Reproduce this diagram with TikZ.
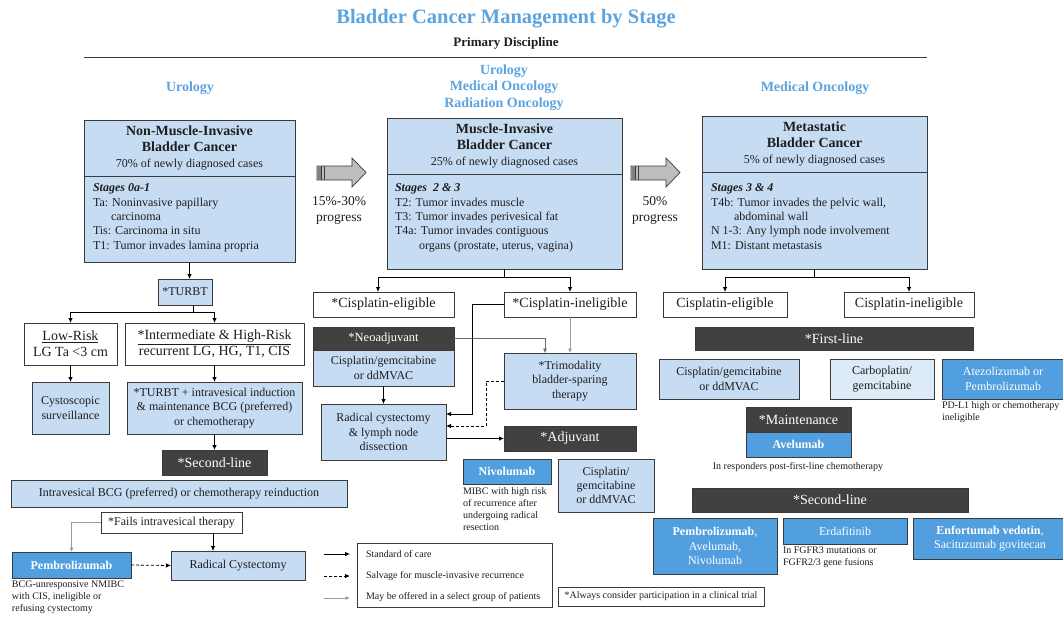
\documentclass[tikz,border=0pt]{standalone}
\usepackage{fontspec}
\setmainfont{Liberation Serif}
\usetikzlibrary{arrows.meta,calc}
\definecolor{tblue}{HTML}{5BA4E0}
\definecolor{lblue}{HTML}{C6DCF3}
\definecolor{llblue}{HTML}{DDEAF8}
\definecolor{mblue}{HTML}{529FE0}
\definecolor{dgray}{HTML}{414141}
\definecolor{edge}{HTML}{3A3A3A}
\definecolor{gline}{HTML}{9A9A9A}
\definecolor{g2line}{HTML}{6A6A6A}
\definecolor{agray}{HTML}{BDBDBD}
\definecolor{txt}{HTML}{1E1E1E}
\newcommand\fs[2]{\fontsize{#1}{#2}\selectfont}
\newcommand\hb[1]{{\fs{14}{16}\bfseries #1}}
\begin{document}
\begin{tikzpicture}[x=1pt,y=-1pt,
  every node/.style={inner sep=0pt, outer sep=0pt, text=txt},
  sz/.style 2 args={minimum width=#1pt, minimum height=#2pt},
  bx/.style={draw=edge, line width=0.9pt, fill=lblue, align=center, font=\fs{12}{14.3}},
  lbx/.style={bx, fill=llblue},
  wb/.style={draw=edge, line width=0.9pt, fill=white, align=center, font=\fs{14}{16}},
  dk/.style={draw=edge, line width=0.9pt, fill=dgray, text=white, align=center, font=\fs{14}{16}},
  bl/.style={draw=edge, line width=0.9pt, fill=mblue, text=white, align=center, font=\fs{12}{14.3}},
  hd/.style={text=tblue, font=\fs{14}{16.5}\bfseries, align=center},
  body/.style={align=left, font=\fs{12}{14.3}},
  small/.style={align=left, font=\fs{10}{12}},
  arr/.style={-{Latex[length=5pt,width=4.5pt]}, line width=0.8pt, draw=black},
  darr/.style={arr, dash pattern=on 3pt off 2pt},
  garr/.style={-{Latex[length=4.5pt,width=4pt]}, line width=0.8pt, draw=gline},
  g2arr/.style={-{Latex[length=4.5pt,width=4pt]}, line width=0.6pt, draw=g2line},
  plain/.style={line width=0.8pt, draw=black}
]
\clip (0,0) rectangle (1063,616);
\fill[white] (0,0) rectangle (1063,616);

% ---------- header ----------
\node[font=\fs{20.5}{24}\bfseries, text=tblue, anchor=base] (title) at (506,23.3) {Bladder Cancer Management by Stage};
\node[font=\fs{13}{15}\bfseries, anchor=base] (pd) at (506,46) {Primary Discipline};
\coordinate (hl) at (84,57); \coordinate (hr) at (927,57);
\draw[line width=1pt, draw=edge] (hl) -- (hr);
\node[hd, anchor=base] (d1) at (190,91) {Urology};
\node[hd, anchor=north] (d2) at (504,64.5) {Urology\\Medical Oncology\\Radiation Oncology};
\node[hd, anchor=base] (d3) at (815,91) {Medical Oncology};

% ---------- stage boxes ----------
\node[bx, sz={211}{56}, font=\fs{12}{15.6}] (nmibcH) at (189.5,148) {\hb{Non-Muscle-Invasive}\\\hb{Bladder Cancer}\\70\% of newly diagnosed cases};
\node[bx, sz={211}{86}] (nmibcB) at (189.5,219) {};
\node[body, anchor=north west] (nmibcT) at (93,184) {\textbf{\textit{Stages 0a-1}}\\Ta: Noninvasive papillary\\\hspace*{18pt}carcinoma\\Tis: Carcinoma in situ\\T1: Tumor invades lamina propria};

\node[bx, sz={235}{56}, font=\fs{12}{15.6}] (mibcH) at (504.5,146) {\hb{Muscle-Invasive}\\\hb{Bladder Cancer}\\25\% of newly diagnosed cases};
\node[bx, sz={235}{95}] (mibcB) at (504.5,221.5) {};
\node[body, anchor=north west] (mibcT) at (395,184) {\textbf{\textit{Stages\ \ 2 \& 3}}\\T2: Tumor invades muscle\\T3: Tumor invades perivesical fat\\T4a: Tumor invades contiguous\\\hspace*{24pt}organs (prostate, uterus, vagina)};

\node[bx, sz={225}{56}, font=\fs{12}{15.6}] (metH) at (814.5,144) {\hb{Metastatic}\\\hb{Bladder Cancer}\\5\% of newly diagnosed cases};
\node[bx, sz={225}{97}] (metB) at (814.5,220.5) {};
\node[body, anchor=north west] (metT) at (711,184) {\textbf{\textit{Stages 3 \& 4}}\\T4b: Tumor invades the pelvic wall,\\\hspace*{23pt}abdominal wall\\N 1-3: Any lymph node involvement\\M1: Distant metastasis};

% ---------- block arrows ----------
\foreach \ax in {317,631}{
  \begin{scope}[shift={(\ax,0)}]
    \draw[fill=agray, draw=edge, line width=0.7pt] (0,166) -- (35,166) -- (35,158) -- (49,172.5) -- (35,187) -- (35,180) -- (0,180) -- cycle;
    \fill[gray] (0.5,166.5) rectangle (3.5,179.5);
    \draw[edge, line width=0.6pt] (4,166) -- (4,180) (7,166) -- (7,180);
  \end{scope}
}
\node[align=center, font=\fs{13.5}{16}] (p1) at (339,210.5) {15\%-30\%\\progress};
\node[align=center, font=\fs{13.5}{16}] (p2) at (655,210.5) {50\%\\progress};

% ---------- NMIBC branch ----------
\node[bx, sz={54}{26}] (turbt) at (185,292) {*TURBT};
\node[wb, sz={93}{42}] (low) at (70.5,344) {\underline{Low-Risk}\\LG Ta <3 cm};
\node[wb, sz={179}{42}] (inter) at (214.5,344) {\underline{*Intermediate \& High-Risk}\\recurrent LG, HG, T1, CIS};
\node[bx, sz={77}{52}] (cysto) at (70.5,408) {Cystoscopic\\surveillance};
\node[bx, sz={175}{52}] (tplus) at (214.5,408) {*TURBT + intravesical induction\\\& maintenance BCG (preferred)\\or chemotherapy};
\node[dk, sz={105}{25}] (sl1) at (214.5,462.5) {*Second-line};
\node[bx, sz={336}{27}] (bcg) at (179,493.5) {Intravesical BCG (preferred) or chemotherapy reinduction};
\node[wb, sz={141}{21}, font=\fs{12}{14.3}] (fails) at (171.5,522.5) {*Fails intravesical therapy};
\node[bl, sz={119}{26}, font=\fs{12}{14.3}\bfseries] (pembro1) at (71.5,565) {Pembrolizumab};
\node[bx, sz={134}{29}] (rc1) at (238,565.5) {Radical Cystectomy};
\node[small, anchor=north west] (pembro1t) at (12,581) {BCG-unresponsive NMIBC\\with CIS, ineligible or\\refusing cystectomy};

\draw[arr] (nmibcB.south) -- (nmibcB.south |- turbt.north);
\coordinate (tdrop) at ($(turbt.south)+(8,0)$);
\draw[plain] (tdrop) -- ++(0,7) coordinate (tsplit);
\draw[arr] (tsplit) -| (low.north);
\draw[arr] (tsplit) -| (inter.north);
\draw[arr] (low.south) -- (cysto.north);
\draw[arr] (inter.south) -- (tplus.north);
\draw[arr] (tplus.south) -- (sl1.north);
\draw[garr] (fails.west) -| (pembro1.north);
\coordinate (fdrop) at ($(fails.south east)+(-29,0)$);
\draw[arr] (fdrop) -- (fdrop |- rc1.north);
\draw[darr] (pembro1.east) -- (rc1.west);

% ---------- MIBC branch ----------
\node[wb, sz={141}{25}] (ceM) at (383.5,304.5) {*Cisplatin-eligible};
\node[wb, sz={132}{25}] (ciM) at (570,304.5) {*Cisplatin-ineligible};
\node[dk, sz={141}{23}, font=\fs{12.5}{15}] (neoH) at (383.5,338.5) {*Neoadjuvant};
\node[bx, sz={141}{36}] (neoB) at (383.5,368) {Cisplatin/gemcitabine\\or ddMVAC};
\node[bx, sz={125}{56}] (rc2) at (383.5,432) {Radical cystectomy\\\& lymph node\\dissection};
\node[bx, sz={132}{56}] (tri) at (570,381) {*Trimodality\\bladder-sparing\\therapy};
\node[dk, sz={132}{25}] (adj) at (570,438.5) {*Adjuvant};
\node[bl, sz={88}{25}, font=\fs{12}{14.3}\bfseries] (nivo) at (507,471.5) {Nivolumab};
\node[small, anchor=north west] (nivot) at (463,487.5) {MIBC with high risk\\of recurrence after\\undergoing radical\\resection};
\node[bx, sz={96}{53}] (adjchemo) at (606,485.5) {Cisplatin/\\gemcitabine\\or ddMVAC};

\draw[plain] (mibcB.south) -- ++(0,8) coordinate (msplit);
\draw[arr] (msplit) -| ($(ceM.north)+(-5.5,0)$);
\draw[arr] (msplit) -| (ciM.north);
\draw[arr] (neoB.south) -- (rc2.north);
\draw[g2arr] (neoH.east) -| ($(tri.north)+(-25,0)$);
\draw[garr] (ciM.south) -- (tri.north);
\draw[arr] (ciM.west) -- ($(ciM.west)+(-32,0)$) |- ($(rc2.east)+(0,-18)$);
\draw[darr] (tri.west) -- ($(tri.west)+(-18,0)$) |- ($(rc2.east)+(0,-6)$);
\draw[arr] (rc2.east |- adj.west) -- (adj.west);

% ---------- Metastatic branch ----------
\node[wb, sz={124}{25}] (ceR) at (725,304.5) {Cisplatin-eligible};
\node[wb, sz={130}{25}] (ciR) at (909,304.5) {Cisplatin-ineligible};
\node[dk, sz={278}{23}] (fl) at (834,338.5) {*First-line};
\node[bx, sz={140}{40}] (cgR) at (729,379) {Cisplatin/gemcitabine\\or ddMVAC};
\node[lbx, sz={104}{40}] (carbo) at (882,379) {Carboplatin/\\gemcitabine};
\node[bl, sz={122}{40}] (atezo) at (1003,379) {Atezolizumab or\\Pembrolizumab};
\node[small, anchor=north west] (atezot) at (942,402) {PD-L1 high or chemotherapy\\ineligible};
\node[dk, sz={105}{25}] (maint) at (798.5,419.5) {*Maintenance};
\node[bl, sz={105}{25}, font=\fs{12}{14.3}\bfseries] (avel) at (798.5,444.5) {Avelumab};
\node[small, anchor=base] (avelt) at (798,469.5) {In responders post-first-line chemotherapy};
\node[dk, sz={276}{24}] (sl2) at (830,500) {*Second-line};
\node[bl, sz={124}{56}] (pembro2) at (715,546) {\textbf{Pembrolizumab},\\Avelumab,\\Nivolumab};
\node[bl, sz={124}{26}] (erda) at (845,531) {Erdafitinib};
\node[small, anchor=north west] (erdat) at (783,547) {In FGFR3 mutations or\\FGFR2/3 gene fusions};
\node[bl, sz={154}{41}] (enfo) at (990,538.5) {\textbf{Enfortumab vedotin},\\Sacituzumab govitecan};

\draw[plain] (metB.south) -- ++(0,8) coordinate (rsplit);
\draw[arr] (rsplit) -| (ceR.north);
\draw[arr] (rsplit) -| (ciR.north);

% ---------- legend ----------
\node[draw=edge, line width=0.9pt, fill=white, sz={195}{64}] (legend) at (454.5,575) {};
\node[small, anchor=west] (lt1) at (366,554) {Standard of care};
\node[small, anchor=west] (lt2) at (366,576) {Salvage for muscle-invasive recurrence};
\node[small, anchor=west] (lt3) at (366,597.5) {May be offered in a select group of patients};
\coordinate (l1s) at (324,554); \coordinate (l1e) at (350,554);
\coordinate (l2s) at (324,576); \coordinate (l2e) at (350,576);
\coordinate (l3s) at (324,598); \coordinate (l3e) at (350,598);
\draw[arr] (l1s) -- (l1e);
\draw[darr] (l2s) -- (l2e);
\draw[garr] (l3s) -- (l3e);
\node[draw=edge, line width=0.9pt, fill=white, sz={206}{19}, font=\fs{10}{12}] (always) at (661,596.5) {*Always consider participation in a clinical trial};
\end{tikzpicture}
\end{document}
